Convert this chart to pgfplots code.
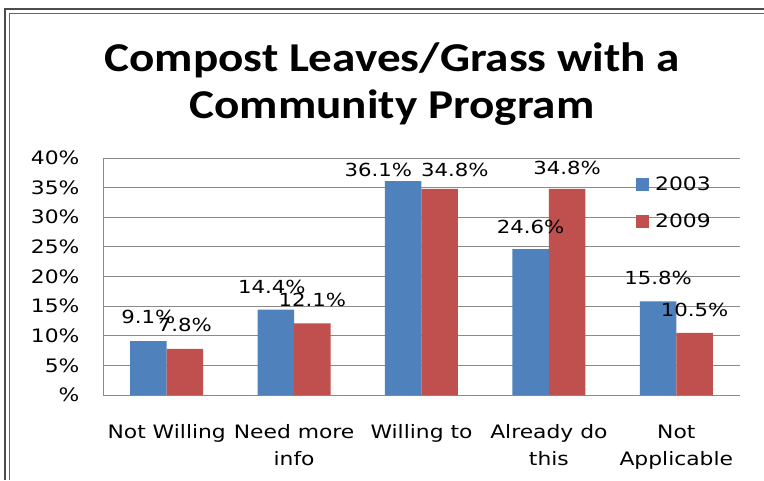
\documentclass[border=0pt]{standalone}
\usepackage{fontspec}
\setmainfont{DejaVu Sans}[FakeStretch=1.18]
\newfontfamily\titlefont{Carlito}[FakeStretch=1.15]
\usepackage{pgfplots}
\pgfplotsset{compat=1.18}
\usepackage{pgfplotstable}
\definecolor{c03}{HTML}{4F81BD}
\definecolor{c09}{HTML}{C0504D}
\definecolor{gridc}{HTML}{8A8A8A}
\pgfplotstableread{
x y03 y09 d03 d09 h03 h09
0 9.1 7.8 24 24 0 0
1 14.4 12.1 23 23 -4 0
2 36.1 34.8 11 19 -25 15
3 24.6 34.8 22 21 0 0
4 15.8 10.5 23 23 0 0
}\datatab
\begin{document}
\begin{tikzpicture}[x=1pt,y=1pt]
\useasboundingbox (0,0) rectangle (764,480);
\fill[white] (0,0) rectangle (764,480);
\draw[line width=2pt,black!70] (5,0) -- (5,471) -- (764,471);
\draw[line width=0.7pt,black!60] (9.5,0) -- (9.5,467) -- (764,467);
\node[font=\titlefont\bfseries\fontsize{41}{46}\selectfont] at (392,420) {Compost Leaves/Grass with a};
\node[font=\titlefont\bfseries\fontsize{41}{46}\selectfont] at (392,372) {Community Program};
\begin{axis}[
  at={(103pt,85pt)}, anchor=south west,
  scale only axis, width=637pt, height=237pt,
  xmin=-0.5, xmax=4.5, ymin=0, ymax=40,
  ybar=0pt, bar width=36.5pt,
  axis x line*=bottom, axis y line*=left,
  axis line style={-,gridc,line width=0.8pt},
  ymajorgrids, grid style={gridc,line width=0.8pt},
  major tick length=0pt,
  ytick={0,5,...,40},
  yticklabels={\%,5\%,10\%,15\%,20\%,25\%,30\%,35\%,40\%},
  yticklabel style={font=\fontsize{18.5}{22}\selectfont, xshift=-20pt},
  xtick={0,1,2,3,4},
  xticklabels={Not Willing,{Need more\\info},Willing to,{Already do\\this},{Not\\Applicable}},
  xticklabel style={font=\fontsize{18.5}{27}\selectfont, align=center, yshift=-26pt},
  nodes near coords={\pgfmathprintnumber[fixed,precision=1,fixed zerofill,assume math mode=true]{\pgfplotspointmeta}\%},
  every node near coord/.append style={font=\fontsize{18}{22}\selectfont, anchor=center, yshift=\dy pt, xshift=\dx pt},
  legend style={at={(0.832,0.94)}, anchor=north west, draw=none, fill=none,
    font=\fontsize{18.5}{22}\selectfont, row sep=18pt},
  legend cell align=left,
  legend image code/.code={\fill[#1] (0pt,-6.5pt) rectangle (13pt,6.5pt); \path (17pt,0pt);},
  clip=false,
]
\addplot[fill=c03,draw=none, visualization depends on={\thisrow{d03}\as\dy}, visualization depends on={\thisrow{h03}\as\dx}] table[x=x,y=y03]{\datatab};
\addlegendentry{2003}
\addplot[fill=c09,draw=none, visualization depends on={\thisrow{d09}\as\dy}, visualization depends on={\thisrow{h09}\as\dx}] table[x=x,y=y09]{\datatab};
\addlegendentry{2009}
\end{axis}
\end{tikzpicture}
\end{document}
